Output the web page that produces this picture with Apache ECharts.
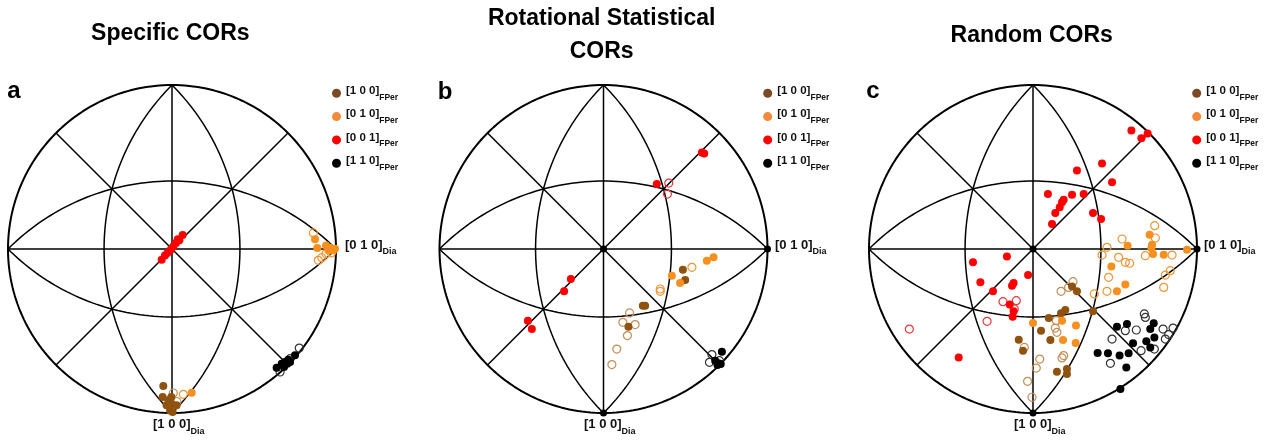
<!DOCTYPE html>
<html><head><meta charset="utf-8">
<script src="https://cdn.jsdelivr.net/npm/echarts@6/dist/echarts.min.js"></script>
<style>html,body{margin:0;padding:0;background:#fff}#c{width:1268px;height:443px}</style>
</head><body><div id="c"></div>
<script>
// ---------- DATA (normalized stereographic coordinates, unit circle, y up) ----------
const titles = ['Specific CORs', 'Rotational Statistical\nCORs', 'Random CORs'];
const panelLetters = ['a', 'b', 'c'];
const legendNames = ['[1 0 0]', '[0 1 0]', '[0 0 1]', '[1 1 0]'];
const legendSub = 'FPer';
const axisRightLabel = '[0 1 0]';
const axisBottomLabel = '[1 0 0]';
const axisSub = 'Dia';
const refPoles = [[0, 0], [1, 0], [0, -1]];

// Panel a
const a100 = [[-0.053,-0.835],[-0.057,-0.902],[-0.022,-0.923],[-0.002,-0.943],[0.028,-0.953],[-0.033,-0.953],[-0.012,-0.984],[0.004,-0.994],[-0.004,-0.902]];
const a100open = [[0.008,-0.878],[0.03,-0.93]];
const a010 = [[0.872,0.059],[0.886,0.006],[0.939,0.022],[0.963,0.008],[0.994,0.002],[0.984,-0.008],[0.953,-0.008],[0.12,-0.876]];
const a010open = [[0.862,0.098],[0.892,-0.069],[0.913,-0.053],[0.939,-0.028],[0.972,-0.024],[0.069,-0.886]];
const a001 = [[0.065,0.085],[0.045,0.053],[0.024,0.037],[0.008,0.016],[-0.008,-0.004],[-0.028,-0.024],[-0.043,-0.039],[-0.063,-0.065],[0.035,0.06]];
const a001open = [];
const a110 = [[0.638,-0.724],[0.669,-0.699],[0.689,-0.689],[0.703,-0.699],[0.72,-0.689],[0.709,-0.675],[0.75,-0.648],[0.683,-0.72]];
const a110open = [[0.776,-0.604],[0.72,-0.669],[0.659,-0.75]];

// Panel b
const b100 = [[0.484,-0.126],[0.498,-0.189],[0.240,-0.346],[0.254,-0.346],[0.152,-0.474]];
const b100open = [[0.159,-0.390],[0.118,-0.447],[0.193,-0.461],[0.146,-0.528],[0.081,-0.610],[0.051,-0.705]];
const b010 = [[0.671,-0.051],[0.630,-0.071],[0.417,-0.163],[0.467,-0.207]];
const b010open = [[0.539,-0.112],[0.346,-0.244],[0.346,-0.258]];
const b001 = [[0.600,0.589],[0.614,0.583],[0.325,0.396],[-0.199,-0.183],[-0.240,-0.258],[-0.461,-0.437],[-0.437,-0.488]];
const b001open = [[0.398,0.402],[0.390,0.335]];
const b110 = [[0.722,-0.626],[0.681,-0.681],[0.701,-0.697],[0.715,-0.701],[0.695,-0.707]];
const b110open = [[0.661,-0.644],[0.646,-0.691],[0.707,-0.681]];

// Panel c
const c100 = [[0.238,-0.228],[0.268,-0.258],[0.197,-0.372],[0.171,-0.392],[0.096,-0.421],[0.049,-0.498],[0.106,-0.555],[-0.087,-0.553],[-0.061,-0.620],[0.146,-0.748],[0.207,-0.732],[0.207,-0.762],[0.366,-0.380]];
const c100open = [[0.171,-0.258],[0.244,-0.199],[0.217,-0.234],[0.142,-0.437],[0.136,-0.482],[0.146,-0.508],[0.187,-0.650],[0.177,-0.664],[0.041,-0.671],[0.020,-0.726],[-0.053,-0.600],[-0.033,-0.807],[-0.006,-0.904]];
const c010 = [[0.711,0.087],[0.577,0.020],[0.726,0.026],[0.732,-0.030],[0.722,0.006],[0.797,-0.035],[0.939,-0.004],[0.478,-0.106],[0.563,-0.217],[0.512,-0.258],[0,-0.451],[0.177,-0.437],[0.262,-0.467],[0.183,-0.555],[0.260,-0.573]];
const c010open = [[0.742,0.142],[0.543,0.061],[0.746,0.067],[0.451,0.010],[0.421,-0.037],[0.522,-0.051],[0.563,-0.081],[0.589,-0.087],[0.685,-0.041],[0.848,-0.037],[0.837,-0.132],[0.807,-0.159],[0.797,-0.234],[0.461,-0.173],[0.451,-0.258],[0.374,-0.274]];
const c001 = [[0.600,0.722],[0.699,0.705],[0.661,0.675],[0.421,0.522],[0.268,0.478],[0.482,0.407],[0.091,0.335],[0.238,0.331],[0.309,0.335],[0.187,0.301],[0.177,0.285],[0.163,0.254],[0.136,0.220],[0.366,0.220],[0.415,0.183],[0.116,0.152],[-0.366,-0.081],[-0.159,-0.045],[-0.030,-0.159],[-0.321,-0.203],[-0.118,-0.207],[-0.128,-0.224],[-0.244,-0.258],[-0.142,-0.339],[-0.118,-0.380],[-0.124,-0.413],[-0.453,-0.661]];
const c001open = [[-0.183,-0.321],[-0.102,-0.315],[-0.280,-0.441],[-0.754,-0.488],[-0.114,-0.366]];
const c110 = [[0.512,-0.474],[0.573,-0.457],[0.736,-0.453],[0.715,-0.488],[0.740,-0.539],[0.610,-0.575],[0.691,-0.563],[0.715,-0.600],[0.394,-0.634],[0.457,-0.636],[0.528,-0.650],[0.583,-0.636],[0.569,-0.722],[0.533,-0.854]];
const c110open = [[0.679,-0.396],[0.685,-0.417],[0.630,-0.494],[0.563,-0.498],[0.482,-0.549],[0.793,-0.488],[0.854,-0.482],[0.827,-0.522],[0.807,-0.549],[0.740,-0.610],[0.659,-0.620],[0.472,-0.697]];

// ---------- STYLE ----------
const FONT = '"Liberation Sans", Arial, Helvetica, sans-serif';
const fillColors = ['#90520f', '#f7901e', '#ff0000', '#000000'];
const legendColors = ['#7b4a25', '#f5893a', '#ff0000', '#000000'];
const openColors = ['#c48e55', '#ee9638', '#e8383c', '#333333'];
const panelsData = [
  [[a100,a100open],[a010,a010open],[a001,a001open],[a110,a110open]],
  [[b100,b100open],[b010,b010open],[b001,b001open],[b110,b110open]],
  [[c100,c100open],[c010,c010open],[c001,c001open],[c110,c110open]]
];
const showPoles = [false, true, true];
const gridLeft = [8, 439.5, 869];
const gridTop = 85, gridSize = 328;
const legendLeft = [332, 763.2, 1192.2];
const titleX = [170.3, 601.7, 1031.7];
const titleY = [33.5, 35, 35.5];
const letterXY = [[14, 91], [445, 92], [873, 91]];
const rightLabelX = [345, 775, 1204];
const bottomLabelX = [153, 584, 1014];

// ---------- GEOMETRY of the stereographic net ----------
function arcPts(cx, cy, r, a0, a1, n) {
  const pts = [];
  for (let i = 0; i <= n; i++) {
    const t = (a0 + (a1 - a0) * i / n) * Math.PI / 180;
    pts.push([cx + r * Math.cos(t), cy + r * Math.sin(t)]);
  }
  return pts;
}
const s = Math.SQRT1_2, r2 = Math.SQRT2;
const netPaths = [
  {pts: arcPts(0, 0, 1, 0, 360, 240), w: 2},
  {pts: [[-1, 0], [1, 0]], w: 1.5},
  {pts: [[0, -1], [0, 1]], w: 1.5},
  {pts: [[-s, -s], [s, s]], w: 1.5},
  {pts: [[-s, s], [s, -s]], w: 1.5},
  {pts: arcPts(-1, 0, r2, -45, 45, 80), w: 1.5},
  {pts: arcPts(1, 0, r2, 135, 225, 80), w: 1.5},
  {pts: arcPts(0, -1, r2, 45, 135, 80), w: 1.5},
  {pts: arcPts(0, 1, r2, 225, 315, 80), w: 1.5}
];

const grid = [], xAxis = [], yAxis = [], series = [], legend = [], graphic = [];
for (let p = 0; p < 3; p++) {
  grid.push({left: gridLeft[p], top: gridTop, width: gridSize, height: gridSize});
  xAxis.push({type: 'value', gridIndex: p, min: -1, max: 1, show: false});
  yAxis.push({type: 'value', gridIndex: p, min: -1, max: 1, show: false});
  netPaths.forEach(np => series.push({
    type: 'line', xAxisIndex: p, yAxisIndex: p, data: np.pts, symbol: 'none',
    silent: true, clip: false, z: 1, animation: false,
    lineStyle: {color: '#000', width: np.w, opacity: 1}
  }));
  panelsData[p].forEach((pair, k) => {
    series.push({
      type: 'scatter', name: 'open ' + legendNames[k], xAxisIndex: p, yAxisIndex: p,
      data: pair[1], symbol: 'circle', symbolSize: 8, z: 3, animation: false, silent: true,
      itemStyle: {color: 'rgba(255,255,255,0)', borderColor: openColors[k], borderWidth: 1.2, opacity: 1}
    });
  });
  panelsData[p].forEach((pair, k) => {
    series.push({
      type: 'scatter', name: legendNames[k], xAxisIndex: p, yAxisIndex: p,
      data: pair[0], symbol: 'circle', symbolSize: 8, z: 4, animation: false, silent: true,
      itemStyle: {color: fillColors[k], opacity: 1}
    });
  });
  if (showPoles[p]) {
    series.push({
      type: 'scatter', name: 'poles', xAxisIndex: p, yAxisIndex: p, data: refPoles,
      symbol: 'circle', symbolSize: 7, z: 5, animation: false, silent: true,
      itemStyle: {color: '#000', opacity: 1}
    });
  }
  legend.push({
    orient: 'vertical', left: legendLeft[p], top: 84.8, padding: 0,
    itemWidth: 9, itemHeight: 9, itemGap: 6.3, icon: 'circle', selectedMode: false,
    itemStyle: {opacity: 1},
    data: legendNames.map((n, k) => ({name: n, itemStyle: {color: legendColors[k], opacity: 1}})),
    formatter: n => '{m|' + n + '}{s|' + legendSub + '}',
    textStyle: {
      fontFamily: FONT, color: '#111', padding: [0, 0, 0, 0],
      rich: {
        m: {fontSize: 11.5, fontWeight: 'bold', fontFamily: FONT, color: '#111', lineHeight: 17, verticalAlign: 'top'},
        s: {fontSize: 8.5, fontWeight: 'bold', fontFamily: FONT, color: '#111', lineHeight: 8, verticalAlign: 'bottom'}
      }
    }
  });
  graphic.push({
    type: 'text', x: titleX[p], y: titleY[p],
    style: {text: titles[p], fontSize: 23, fontWeight: 'bold', fontFamily: FONT, fill: '#000',
      textAlign: 'center', textVerticalAlign: 'middle', lineHeight: 33.4}
  });
  graphic.push({
    type: 'text', x: letterXY[p][0], y: letterXY[p][1],
    style: {text: panelLetters[p], fontSize: 24, fontWeight: 'bold', fontFamily: FONT, fill: '#000',
      textAlign: 'center', textVerticalAlign: 'middle'}
  });
  const labelRich = {
    m: {fontSize: 13, fontWeight: 'bold', fontFamily: FONT, fill: '#111', color: '#111', lineHeight: 18, verticalAlign: 'top'},
    s: {fontSize: 9, fontWeight: 'bold', fontFamily: FONT, fill: '#111', color: '#111', lineHeight: 9, verticalAlign: 'bottom'}
  };
  graphic.push({
    type: 'text', x: rightLabelX[p], y: 247.5,
    style: {text: '{m|' + axisRightLabel + '}{s|' + axisSub + '}', rich: labelRich,
      textAlign: 'left', textVerticalAlign: 'middle'}
  });
  graphic.push({
    type: 'text', x: bottomLabelX[p], y: 426.7,
    style: {text: '{m|' + axisBottomLabel + '}{s|' + axisSub + '}', rich: labelRich,
      textAlign: 'left', textVerticalAlign: 'middle'}
  });
}

const chart = echarts.init(document.getElementById('c'), null, {renderer: 'canvas'});
chart.setOption({
  backgroundColor: '#fff', animation: false,
  grid, xAxis, yAxis, series, legend, graphic
});
</script></body></html>
